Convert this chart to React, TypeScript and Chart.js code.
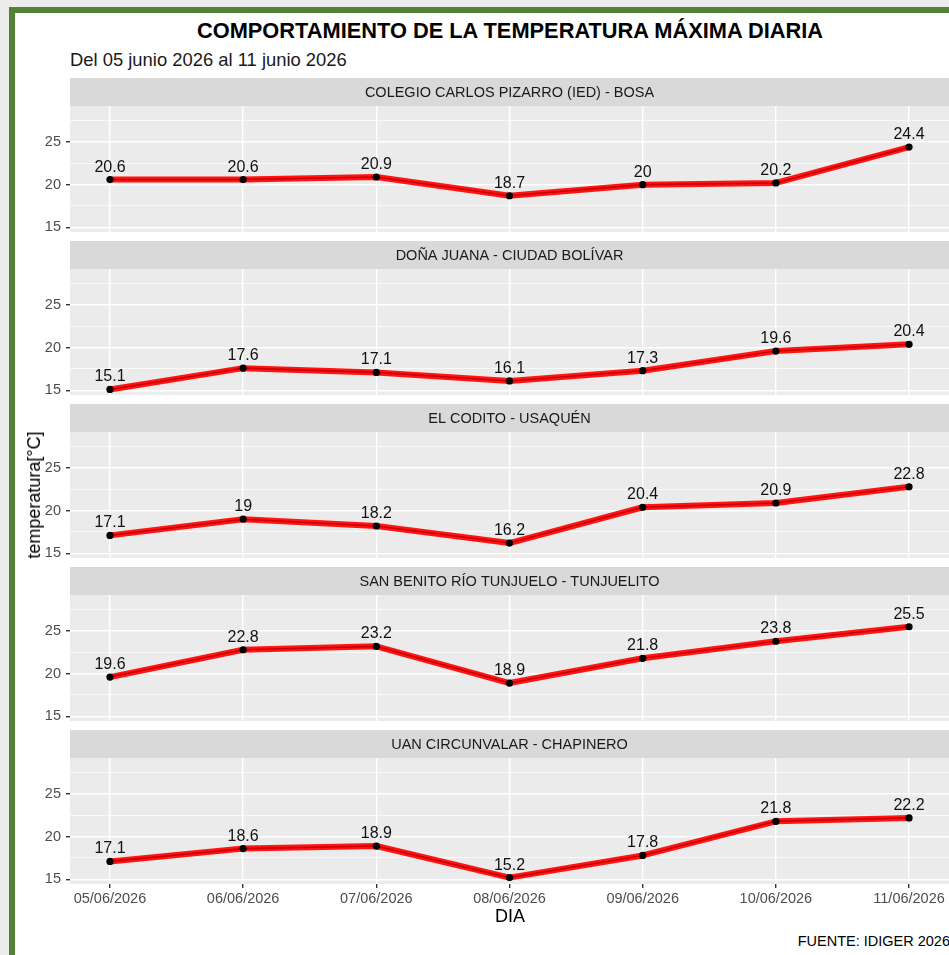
import React, { useEffect, useRef } from "react";
import { Chart, registerables } from "chart.js";

Chart.register(...registerables);

// ---------- DATA ----------
const DAYS = ["05/06/2026", "06/06/2026", "07/06/2026", "08/06/2026", "09/06/2026", "10/06/2026", "11/06/2026"];
const STATIONS = [
  "COLEGIO CARLOS PIZARRO (IED) - BOSA",
  "DOÑA JUANA - CIUDAD BOLÍVAR",
  "EL CODITO - USAQUÉN",
  "SAN BENITO RÍO TUNJUELO - TUNJUELITO",
  "UAN CIRCUNVALAR - CHAPINERO",
];
const BOSA = [20.6, 20.6, 20.9, 18.7, 20, 20.2, 24.4];
const DONA_JUANA = [15.1, 17.6, 17.1, 16.1, 17.3, 19.6, 20.4];
const EL_CODITO = [17.1, 19, 18.2, 16.2, 20.4, 20.9, 22.8];
const SAN_BENITO = [19.6, 22.8, 23.2, 18.9, 21.8, 23.8, 25.5];
const UAN = [17.1, 18.6, 18.9, 15.2, 17.8, 21.8, 22.2];
const SERIES = [BOSA, DONA_JUANA, EL_CODITO, SAN_BENITO, UAN];
const Y_TICKS = [15, 17.5, 20, 22.5, 25, 27.5];
const Y_MIN = 14.45;
const Y_MAX = 29.22;

// ---------- LAYOUT ----------
const FONT = '"Liberation Sans", Arial, Helvetica, sans-serif';
const STRIP_H = 28;
const PLOT_H = 126;
const PANEL_TOP0 = 78;
const PANEL_PITCH = 163;
const X_AXIS_H = 26;
const W = 949;

const isMajor = (v: number) => Math.abs(v % 5) < 1e-9;

function Panel({ index }: { index: number }) {
  const ref = useRef<HTMLCanvasElement | null>(null);
  const last = index === SERIES.length - 1;
  const height = STRIP_H + PLOT_H + (last ? X_AXIS_H : 0);
  const top = PANEL_TOP0 + PANEL_PITCH * index;

  useEffect(() => {
    if (!ref.current) return;
    const values = SERIES[index];
    const pts = values.map((v, i) => ({ x: i, y: v }));
    const title = STATIONS[index];

    const decor = {
      id: "panelDecor" + index,
      beforeDraw(chart: any) {
        const { ctx, chartArea: a } = chart;
        ctx.save();
        ctx.fillStyle = "#ebebeb";
        ctx.fillRect(a.left, a.top, a.right - a.left, a.bottom - a.top);
        ctx.fillStyle = "#d9d9d9";
        ctx.fillRect(a.left, a.top - STRIP_H, a.right - a.left, STRIP_H);
        ctx.fillStyle = "#1a1a1a";
        ctx.font = `14.5px ${FONT}`;
        ctx.textAlign = "center";
        ctx.textBaseline = "middle";
        ctx.fillText(title, (a.left + a.right) / 2, a.top - STRIP_H / 2 + 1);
        ctx.restore();
      },
      afterDatasetsDraw(chart: any) {
        const { ctx } = chart;
        const meta = chart.getDatasetMeta(0);
        ctx.save();
        ctx.fillStyle = "#111111";
        ctx.font = `16px ${FONT}`;
        ctx.textAlign = "center";
        ctx.textBaseline = "alphabetic";
        meta.data.forEach((el: any, i: number) => {
          ctx.fillText(String(values[i]), el.x, el.y - 8);
        });
        ctx.restore();
      },
    };

    const chart = new Chart(ref.current, {
      type: "line",
      data: {
        datasets: [
          {
            data: pts,
            borderColor: "#cc0000",
            borderWidth: 1.6,
            pointRadius: 3.6,
            pointBackgroundColor: "#000000",
            pointBorderWidth: 0,
            tension: 0,
            borderJoinStyle: "round",
          },
          {
            data: pts,
            borderColor: "#ff1414",
            borderWidth: 6,
            pointRadius: 0,
            tension: 0,
            borderJoinStyle: "round",
          },
        ],
      },
      options: {
        animation: false,
        responsive: false,
        events: [],
        layout: { padding: { top: STRIP_H, left: 0, right: 0, bottom: 0 }, autoPadding: false },
        plugins: { legend: { display: false }, tooltip: { enabled: false } },
        scales: {
          x: {
            type: "linear",
            min: -0.3,
            max: 6.3,
            afterBuildTicks: (s: any) => {
              s.ticks = DAYS.map((_, i) => ({ value: i }));
            },
            grid: {
              color: "#ffffff",
              lineWidth: 1.4,
              drawTicks: last,
              tickLength: 4,
              tickColor: "#333333",
            },
            border: { display: false },
            ticks: {
              display: last,
              autoSkip: false,
              maxRotation: 0,
              padding: 2,
              color: "#4d4d4d",
              font: { family: FONT, size: 14.5 },
              callback: (v: any) => DAYS[v] ?? "",
            },
            afterFit: (s: any) => {
              s.height = last ? X_AXIS_H : 0;
              s.paddingLeft = 0;
              s.paddingRight = 0;
              s.paddingTop = 0;
              s.paddingBottom = 0;
            },
          },
          y: {
            type: "linear",
            min: Y_MIN,
            max: Y_MAX,
            afterBuildTicks: (s: any) => {
              s.ticks = Y_TICKS.map((v) => ({ value: v }));
            },
            grid: {
              color: "#ffffff",
              lineWidth: (c: any) => (c.tick && isMajor(c.tick.value) ? 1.4 : 0.7),
              tickColor: (c: any) => (c.tick && isMajor(c.tick.value) ? "#333333" : "rgba(0,0,0,0)"),
              tickLength: 4,
            },
            border: { display: false },
            ticks: {
              autoSkip: false,
              padding: 5,
              color: "#4d4d4d",
              font: { family: FONT, size: 14.5 },
              callback: (v: any) => (isMajor(Number(v)) ? String(v) : ""),
            },
            afterFit: (s: any) => {
              s.width = 70;
              s.paddingTop = 0;
              s.paddingBottom = 0;
              s.paddingLeft = 0;
              s.paddingRight = 0;
            },
          },
        },
      },
      plugins: [decor],
    } as any);
    return () => chart.destroy();
  }, [index]);

  return (
    <div style={{ position: "absolute", left: 0, top, width: W, height }}>
      <canvas ref={ref} width={W} height={height} style={{ display: "block" }} />
    </div>
  );
}

export default function App() {
  return (
    <div
      style={{
        position: "absolute",
        left: 0,
        top: 0,
        width: 949,
        height: 955,
        overflow: "hidden",
        background: "#ececec",
        fontFamily: FONT,
      }}
    >
      <div
        style={{
          position: "absolute",
          left: 9,
          top: 7,
          width: 980,
          height: 980,
          border: "6px solid #548235",
          background: "#ffffff",
        }}
      />
      <div
        style={{
          position: "absolute",
          left: 70,
          top: 20,
          width: 880,
          textAlign: "center",
          fontWeight: "bold",
          fontSize: 21.8,
          lineHeight: "22px",
          color: "#000",
          whiteSpace: "nowrap",
        }}
      >
        COMPORTAMIENTO DE LA TEMPERATURA MÁXIMA DIARIA
      </div>
      <div
        style={{
          position: "absolute",
          left: 70,
          top: 51,
          fontSize: 18.4,
          lineHeight: "18px",
          color: "#1a1a1a",
          whiteSpace: "nowrap",
        }}
      >
        Del 05 junio 2026 al 11 junio 2026
      </div>
      {SERIES.map((_, i) => (
        <Panel key={i} index={i} />
      ))}
      <div
        style={{
          position: "absolute",
          left: 34,
          top: 495,
          transform: "translate(-50%, -50%) rotate(-90deg)",
          fontSize: 18,
          lineHeight: "18px",
          color: "#000",
          whiteSpace: "nowrap",
        }}
      >
        temperatura[°C]
      </div>
      <div
        style={{
          position: "absolute",
          left: 510,
          top: 916,
          transform: "translate(-50%, -50%)",
          fontSize: 18,
          lineHeight: "18px",
          color: "#000",
          whiteSpace: "nowrap",
        }}
      >
        DIA
      </div>
      <div
        style={{
          position: "absolute",
          right: -1,
          top: 933,
          fontSize: 14.5,
          lineHeight: "16px",
          color: "#000",
          whiteSpace: "nowrap",
        }}
      >
        FUENTE: IDIGER 2026
      </div>
    </div>
  );
}
